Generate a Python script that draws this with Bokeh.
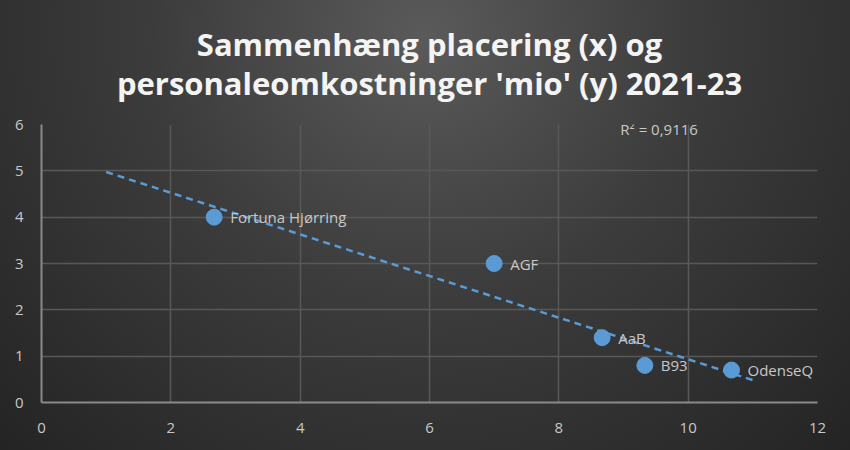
import numpy as np
from bokeh.plotting import figure
from bokeh.models import ColumnDataSource, Title, FixedTicker, Range1d
from bokeh.core.properties import value
from bokeh.embed import file_html
from bokeh.resources import INLINE

teams = ["Fortuna Hjørring", "AGF", "AaB", "B93", "OdenseQ"]
placering = [2.67, 7.0, 8.67, 9.33, 10.67]
omkostninger = [4.0, 3.0, 1.4, 0.8, 0.7]
trend_x = [1, 11]
r2_label = "R² = 0,9116"
r2_pos = (8.95, 5.9)
x_ticks = [0, 2, 4, 6, 8, 10, 12]
y_ticks = [0, 1, 2, 3, 4, 5, 6]
title_lines = ["Sammenhæng placering (x) og", "personaleomkostninger 'mio' (y) 2021-23"]

slope, intercept = np.polyfit(placering, omkostninger, 1)
tx = np.array(trend_x, dtype=float)
ty = slope * tx + intercept

FONT = "Open Sans"
TXT = "#c8c8c8"
BLUE = "#5b9bd5"
W, H = 850, 450

p = figure(width=W, height=H, output_backend="svg", toolbar_location=None,
           x_range=Range1d(0, 12), y_range=Range1d(0, 6),
           min_border_left=41, min_border_right=33, min_border_bottom=48, min_border_top=124)
p.styles = {"background": "radial-gradient(ellipse farthest-corner at 50% 8%, #5a5a5a 0%, #3c3c3c 45%, #242424 100%)"}
p.background_fill_color = None
p.border_fill_color = None
p.outline_line_color = None

title = Title(text="\n".join(title_lines), align="center", text_font=FONT,
              text_font_size="31px", text_font_style="bold", text_color="#f4f4f4",
              text_line_height=0.95, standoff=40)
try:
    title.text_align = "center"
except Exception:
    pass
p.add_layout(title, "above")

p.xaxis.ticker = FixedTicker(ticks=x_ticks)
p.yaxis.ticker = FixedTicker(ticks=y_ticks)
for ax in (p.xaxis, p.yaxis):
    ax.axis_line_color = "#8a8a8a"
    ax.axis_line_width = 2
    ax.major_tick_line_color = None
    ax.minor_tick_line_color = None
    ax.major_label_text_color = TXT
    ax.major_label_text_font = FONT
    ax.major_label_text_font_size = "15px"
p.xaxis.major_label_standoff = 14
p.yaxis.major_label_standoff = 12
p.grid.grid_line_color = "#585858"
p.grid.grid_line_width = 1.5

src = ColumnDataSource(dict(x=placering, y=omkostninger, name=teams))
p.line(tx, ty, line_color=BLUE, line_width=2.5, line_dash="7 5")
p.scatter("x", "y", source=src, size=16, fill_color=BLUE, line_color=BLUE)
p.text("x", "y", text="name", source=src, x_offset=16, text_baseline="middle",
       text_color=TXT, text_font=value(FONT), text_font_size="15px")
p.text([r2_pos[0]], [r2_pos[1]], text=[r2_label], text_baseline="middle",
       text_color=TXT, text_font=value(FONT), text_font_size="15px")

open("out.html", "w").write(file_html(p, INLINE))
